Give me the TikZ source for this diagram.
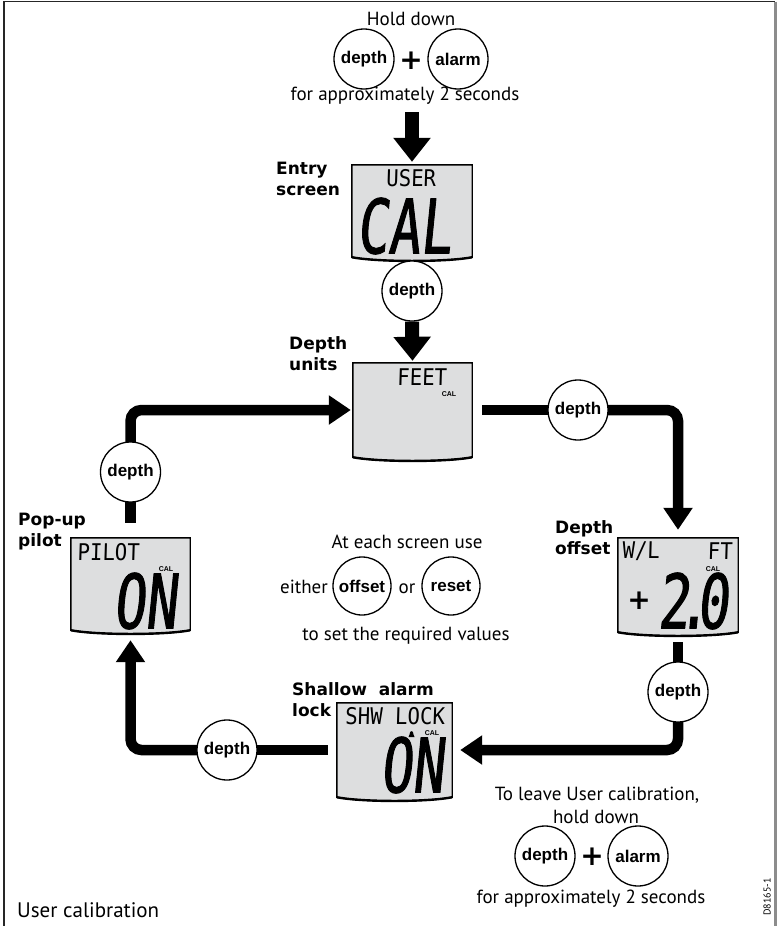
\documentclass[tikz,border=0pt]{standalone}
\usepackage{fontspec}
\setmainfont{PT Sans}
\newfontfamily\btnfont{Liberation Sans}
\newfontfamily\heavyfont{DejaVu Sans}
\newfontfamily\lcdbig{DejaVu Sans Mono}[FakeSlant=0.1,FakeStretch=0.7,FakeBold=1.2]
\newfontfamily\lcdsm{DejaVu Sans Mono}[FakeSlant=0.03,FakeStretch=0.9]
\usetikzlibrary{arrows.meta,calc}
\pgfdeclarelayer{bg}
\pgfsetlayers{bg,main}
\definecolor{lcdgray}{RGB}{221,222,223}
\tikzset{
  btn/.style={circle, draw, line width=1.3pt, fill=white, minimum size=60pt, inner sep=0pt,
    font=\btnfont\bfseries\fontsize{17}{17}\selectfont},
  txt/.style={inner sep=0pt, anchor=base, font=\fontsize{19}{22}\selectfont},
  lbl/.style={inner sep=0pt, anchor=west, align=left, font=\heavyfont\bfseries\fontsize{17}{21}\selectfont},
  lcdnode/.style={rectangle, inner sep=0pt, draw=none},
  lcdframe/.style={fill=lcdgray, draw=black, line width=1.4pt},
  flowline/.style={line width=10.5pt},
  flow/.style={line width=10.5pt, rounded corners=11pt, -{Triangle[width=28pt,length=22pt]}},
  bigarrow/.style={line width=14pt, -{Triangle[width=36pt,length=24pt]}},
  bigtxt/.style={inner sep=0pt, font=\lcdbig\fontsize{75}{75}\selectfont},
  smtxt/.style={inner sep=0pt, font=\lcdsm\fontsize{23}{23}\selectfont},
  caltxt/.style={inner sep=0pt, font=\btnfont\bfseries\fontsize{7}{7}\selectfont},
  plussign/.style={inner sep=0pt, font=\heavyfont\bfseries\fontsize{28}{28}\selectfont},
}
\newcommand{\lcdscreen}[5]{%
  \node[lcdnode, minimum width=#4pt, minimum height=#5pt] (#1) at (#2,#3) {};
  \draw[lcdframe] (#1.north west) -- (#1.north east) -- (#1.south east)
    .. controls ($(#1.south east)+(-25,5)$) and ($(#1.south west)+(25,5)$) .. (#1.south west) -- cycle;
  \draw[line width=2.4pt] (#1.south east)
    .. controls ($(#1.south east)+(-25,5)$) and ($(#1.south west)+(25,5)$) .. (#1.south west);
}
\begin{document}
\begin{tikzpicture}[x=1pt,y=-1pt]
\useasboundingbox (0,0) rectangle (777,926);
% frame
\draw[line width=1.3pt, black!85] (4,926) -- (4,1.5) -- (775,1.5);
\draw[line width=3pt, black!45] (775,1.5) -- (775,926);

% top instruction
\node[txt] (hold) at (411,25) {Hold down};
\node[btn] (b1) at (364,59) {depth};
\node[plussign] (plus1) at (411,61) {+};
\node[btn] (b2) at (458,59) {alarm};
\node[txt] (approx1) at (405,100) {for approximately 2 seconds};
\coordinate (t1) at (412,112);

% screens
\lcdscreen{entry}{412}{211}{120}{92}
\lcdscreen{units}{412.5}{410}{119}{94}
\lcdscreen{offs}{678}{585}{120}{94}
\lcdscreen{shallow}{394.5}{750}{115}{94}
\lcdscreen{popup}{130.5}{584}{119}{92}

% screen contents
\node[smtxt] (entryTop) at (411,178) {USER};
\node[bigtxt] (entryBig) at (404,226) {CAL};

\node[smtxt] (unitsTop) at (422,377) {FEET};
\node[caltxt] (unitsCal) at (449,394) {CAL};

\node[smtxt] (popTop) at (108.5,552) {PILOT};
\node[caltxt] (popCal) at (166,569) {CAL};
\node[bigtxt] (popBig) at (145,601) {ON};

\node[smtxt] (offTopL) at (641,551) {W/L};
\node[smtxt] (offTopR) at (720,551) {FT};
\node[caltxt] (offCal) at (713,569) {CAL};
\node[plussign] (offPlus) at (639,601) {+};
\node[bigtxt] (offBig) at (693,601) {2\kern-12pt.\kern-12pt0};

\node[smtxt] (shTop) at (395,716) {SHW LOCK};
\fill (408.5,737) -- (414.5,737) -- (413.5,734.5) .. controls (413.5,730) and (409.5,730) .. (409.5,734.5) -- cycle;
\node[caltxt] (shCal) at (432,733) {CAL};
\node[bigtxt] (shBig) at (412,765) {ON};

% labels
\node[lbl] (entryL) at (276,179) {Entry\\screen};
\node[lbl] (unitsL) at (289,354) {Depth\\units};
\node[lbl] (popL) at (18,532) {Pop-up\\pilot};
\node[lbl] (offL) at (555,538) {Depth\\offset};
\node[lbl] (shalL) at (292,700) {Shallow\ \ alarm\\lock};

% depth buttons on the flow
\node[btn] (b3) at (412,291) {depth};
\node[btn] (b4) at (578,410) {depth};
\node[btn] (b5) at (678,692) {depth};
\node[btn] (b6) at (227,750) {depth};
\node[btn] (b7) at (130.5,472) {depth};

% arrows
\draw[bigarrow] (t1) -- ([yshift=3pt]entry.north);
\draw[bigarrow] (b3.south) -- ([yshift=2pt]units.north);
\coordinate (uR) at (482,410);
\begin{pgfonlayer}{bg}
\draw[flowline] (uR) -- (b4.center);
\draw[flow] (b4.center) -| ([yshift=8pt]offs.north);
\draw[flowline] ([yshift=-10pt]offs.south) -- (b5.center);
\draw[flow] (b5.center) |- ([xshift=8pt]shallow.east);
\draw[flowline] ([xshift=-9pt]shallow.west) -- (b6.center);
\draw[flow] (b6.center) -| ([yshift=-10pt]popup.south);
\draw[flowline] ([yshift=15pt]popup.north) -- (b7.center);
\draw[flow] (b7.center) |- ([xshift=-2pt]units.west);
\end{pgfonlayer}

% middle instruction
\node[txt] (atEach) at (407,548) {At each screen use};
\node[txt] (either) at (304,593) {either};
\node[btn, minimum size=58pt] (b8) at (362,586) {offset};
\node[txt] (orW) at (407,593) {or};
\node[btn, minimum size=58pt] (b9) at (451,586) {reset};
\node[txt] (toSet) at (406,640) {to set the required values};

% bottom instruction
\node[txt] (leave) at (597,800) {To leave User calibration,};
\node[txt] (hold2) at (596,823) {hold down};
\node[btn] (b10) at (545,856) {depth};
\node[plussign] (plus2) at (592,857) {+};
\node[btn] (b11) at (638,856) {alarm};
\node[txt] (approx2) at (591,903) {for approximately 2 seconds};

\node[txt, anchor=base west, font=\fontsize{21}{24}\selectfont] (usercal) at (17,917) {User calibration};
\node[inner sep=0pt, rotate=90, font=\fontsize{10}{10}\selectfont] (code) at (767,897) {D8165-1};
\end{tikzpicture}
\end{document}
